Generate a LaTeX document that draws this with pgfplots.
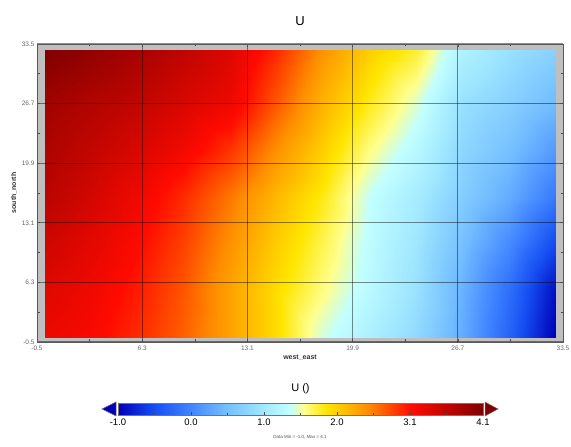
\documentclass[border=0pt]{standalone}
\usepackage{pgfplots}
\pgfplotsset{compat=1.18}
\usepackage{pgfplotstable}
\usepackage{fontspec}
\setmainfont{Liberation Sans}

\pgfplotsset{colormap={ncl}{
 rgb(0pt)=(0,0,0.72)
 rgb(50pt)=(0.08,0.3,0.95)
 rgb(100pt)=(0.25,0.52,1)
 rgb(150pt)=(0.45,0.74,1)
 rgb(200pt)=(0.62,0.9,1)
 rgb(240pt)=(0.76,1,1)
 rgb(260pt)=(1,1,0.55)
 rgb(290pt)=(1,0.9,0)
 rgb(350pt)=(1,0.55,0)
 rgb(410pt)=(1,0.04,0)
 rgb(510pt)=(0.5,0,0)
}}

\pgfplotstableread{
x y u
0 0 3.25
3 0 3.15
6 0 2.95
9 0 2.7
12 0 2.35
15 0 1.95
18 0 1.45
21 0 1.15
24 0 0.85
27 0 0.35
30 0 -0.3
33 0 -1.0
0 5.3 3.35
3 5.3 3.22
6 5.3 3.02
9 5.3 2.75
12 5.3 2.35
15 5.3 1.95
18 5.3 1.62
21 5.3 1.3
24 5.3 0.95
27 5.3 0.4
30 5.3 -0.2
33 5.3 -0.9
0 11 3.5
3 11 3.33
6 11 3.12
9 11 2.85
12 11 2.47
15 11 2.07
18 11 1.73
21 11 1.35
24 11 1.02
27 11 0.55
30 11 0.07
33 11 -0.5
0 16.1 3.65
3 16.1 3.45
6 16.1 3.22
9 16.1 2.95
12 16.1 2.6
15 16.1 2.2
18 16.1 1.85
21 16.1 1.4
24 16.1 1.1
27 16.1 0.7
30 16.1 0.35
33 16.1 -0.1
0 21.5 3.75
3 21.5 3.58
6 21.5 3.41
9 21.5 3.2
12 21.5 2.92
15 21.5 2.47
18 21.5 2.05
21 21.5 1.62
24 21.5 1.3
27 21.5 0.82
30 21.5 0.55
33 21.5 0.2
0 27 3.85
3 27 3.72
6 27 3.6
9 27 3.42
12 27 3.25
15 27 2.75
18 27 2.25
21 27 1.85
24 27 1.5
27 27 0.95
30 27 0.75
33 27 0.5
0 32.8 4.1
3 32.8 3.95
6 32.8 3.8
9 32.8 3.6
12 32.8 3.38
15 32.8 2.95
18 32.8 2.45
21 32.8 2.05
24 32.8 1.8
27 32.8 1.2
30 32.8 0.95
33 32.8 0.75
}\fielddata

\begin{document}
\begin{tikzpicture}
\path[use as bounding box] (0,0) rectangle (571pt,447pt);
\begin{axis}[
  at={(37pt,105pt)}, anchor=south west, scale only axis,
  width=526pt, height=298pt,
  xmin=-0.5, xmax=33.5, ymin=-0.5, ymax=33.5,
  xtick={-0.5,6.3,13.1,19.9,26.7,33.5},
  ytick={-0.5,6.3,13.1,19.9,26.7,33.5},
  xticklabels={-0.5,6.3,13.1,19.9,26.7,33.5},
  yticklabels={-0.5,6.3,13.1,19.9,26.7,33.5},
  minor tick num=1,
  grid=major,
  major grid style={black, opacity=0.45, line width=1pt},
  axis on top,
  axis background/.style={fill=black!25},
  axis line style={black!65, line width=0.9pt},
  tick style={black!70, line width=0.6pt},
  major tick length=3pt, minor tick length=2.5pt,
  tick align=inside,
  ticklabel style={font=\fontsize{6.5}{7}\selectfont, text=black!60},
  xticklabel style={yshift=0pt},
  yticklabel style={xshift=1pt},
  xlabel={west\_east},
  ylabel={south\_north},
  label style={font=\bfseries\fontsize{7}{8}\selectfont, text=black!80},
  xlabel style={yshift=2pt},
  ylabel style={yshift=-2pt},
  title={U},
  title style={font=\fontsize{13}{14}\selectfont, at={(0.5,1)}, anchor=south, yshift=9pt},
  colormap name=ncl, point meta min=-1, point meta max=4.1,
]
\addplot[surf, shader=interp, mesh/cols=12, point meta=explicit]
  table[x=x, y=y, meta=u] {\fielddata};
\end{axis}

\begin{axis}[
  at={(118pt,32pt)}, anchor=south west, scale only axis,
  width=365pt, height=12pt,
  xmin=-1, xmax=4.1, ymin=0, ymax=1,
  ytick=\empty,
  xtick={-1,0.02,1.04,2.06,3.08,4.1},
  xticklabels={-1.0,0.0,1.0,2.0,3.1,4.1},
  minor xtick={-0.49,0.53,1.55,2.57,3.59},
  xtick pos=bottom,
  tick align=inside,
  major tick length=2.5pt, minor tick length=2pt,
  tick style={black!70, line width=0.6pt},
  axis on top,
  axis line style={black!55, line width=0.8pt},
  ticklabel style={font=\fontsize{9.5}{10}\selectfont, text=black},
  xticklabel style={yshift=0pt},
  title={U ()},
  title style={font=\fontsize{11}{12}\selectfont, at={(0.5,1)}, anchor=south, yshift=0pt},
  colormap name=ncl, point meta min=-1, point meta max=4.1,
]
\addplot[surf, shader=interp, mesh/cols=11, point meta=x] coordinates {
 (-1,0) (-0.5,0) (0,0) (0.5,0) (1,0) (1.4,0) (1.6,0) (1.9,0) (2.5,0) (3.1,0) (4.1,0)
 (-1,1) (-0.5,1) (0,1) (0.5,1) (1,1) (1.4,1) (1.6,1) (1.9,1) (2.5,1) (3.1,1) (4.1,1)
};
\end{axis}

\fill[fill={rgb,1:red,0;green,0;blue,0.72}, draw=black!55, line width=0.5pt]
  (116pt,31pt) -- (116pt,45pt) -- (102pt,38pt) -- cycle;
\fill[fill={rgb,1:red,0.5;green,0;blue,0}, draw=black!55, line width=0.5pt]
  (485pt,31pt) -- (485pt,45pt) -- (498pt,38pt) -- cycle;
\node[font=\fontsize{4.5}{5}\selectfont, text=black!70] at (300pt,10pt) {Data Min = -1.0, Max = 4.1};
\end{tikzpicture}
\end{document}
